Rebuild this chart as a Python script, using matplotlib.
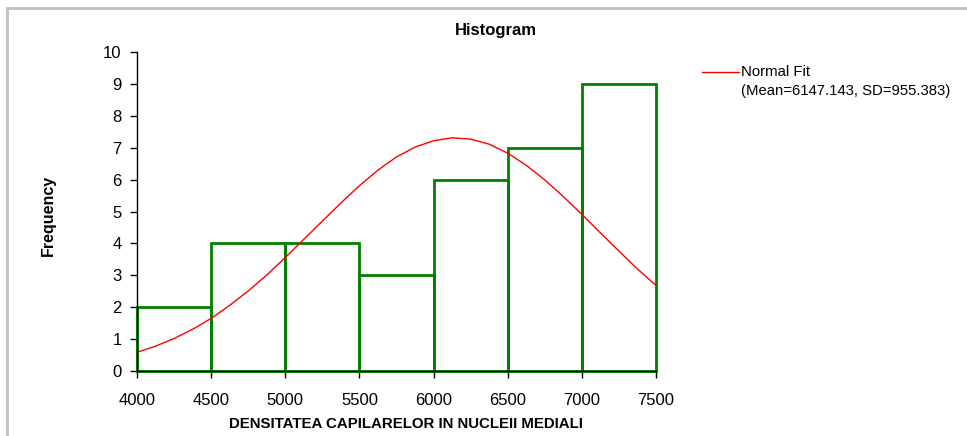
import matplotlib.pyplot as plt
from matplotlib.lines import Line2D
from matplotlib.patches import Rectangle

plt.rcParams['font.family'] = ['Liberation Sans', 'DejaVu Sans']

# histogram bins and counts
bin_edges = [4000, 4500, 5000, 5500, 6000, 6500, 7000, 7500]
counts = [2, 4, 4, 3, 6, 7, 9]

# normal fit curve
fit_x = [4000, 4125, 4250, 4375, 4500, 4625, 4750, 4875, 5000, 5125, 5250,
         5375, 5500, 5625, 5750, 5875, 6000, 6125, 6250, 6375, 6500, 6625,
         6750, 6875, 7000, 7125, 7250, 7375, 7500]
fit_y = [0.59, 0.78, 1.02, 1.31, 1.65, 2.06, 2.51, 3.01, 3.56, 4.13, 4.70,
         5.27, 5.81, 6.30, 6.71, 7.02, 7.22, 7.31, 7.27, 7.11, 6.83, 6.45,
         5.99, 5.47, 4.91, 4.33, 3.76, 3.20, 2.68]

fig = plt.figure(figsize=(9.67, 4.36), dpi=100)
ax = fig.add_axes([0.1417, 0.149, 0.5367, 0.7317])

# outer gray frame
fig.add_artist(Rectangle((7 / 967, -0.1), 1.2, 1 - 8.5 / 436 + 0.1,
                         transform=fig.transFigure, fill=False,
                         edgecolor='#c0c0c0', linewidth=2))

lefts = bin_edges[:-1]
widths = [b - a for a, b in zip(bin_edges[:-1], bin_edges[1:])]
bars = ax.bar(lefts, counts, width=widths, align='edge', fill=False,
              edgecolor='#008000', linewidth=2, zorder=2)
for b in bars:
    b.set_clip_on(False)
ax.plot(fit_x, fit_y, color='red', linewidth=1, zorder=3)

ax.set_xlim(4000, 7500)
ax.set_ylim(0, 10)
ax.set_xticks(bin_edges)
ax.set_yticks(range(0, 11))
ax.tick_params(direction='out', length=5, width=1, labelsize=12, colors='black')
ax.tick_params(axis='x', pad=11)
ax.tick_params(axis='y', pad=6)
for s in ['top', 'right']:
    ax.spines[s].set_visible(False)
for s in ['left', 'bottom']:
    ax.spines[s].set_linewidth(1)
    ax.spines[s].set_zorder(4)

fig.text(496 / 967, 1 - 31 / 436, 'Histogram', ha='center', va='center',
         fontsize=12, fontweight='bold')
fig.text(406 / 967, 1 - 424 / 436, 'DENSITATEA CAPILARELOR IN NUCLEII MEDIALI',
         ha='center', va='center', fontsize=10.8, fontweight='bold')
fig.text(48 / 967, 1 - 215 / 436, 'Frequency', ha='center', va='center',
         rotation=90, fontsize=11.5, fontweight='bold')

# legend
fig.add_artist(Line2D([702 / 967, 739 / 967], [1 - 72 / 436, 1 - 72 / 436],
                      transform=fig.transFigure, color='red', linewidth=1))
fig.text(741 / 967, 1 - 72 / 436, 'Normal Fit', ha='left', va='center', fontsize=10.7)
fig.text(741 / 967, 1 - 91 / 436, '(Mean=6147.143, SD=955.383)', ha='left',
         va='center', fontsize=10.7)

fig.savefig('out.png', dpi=100)
